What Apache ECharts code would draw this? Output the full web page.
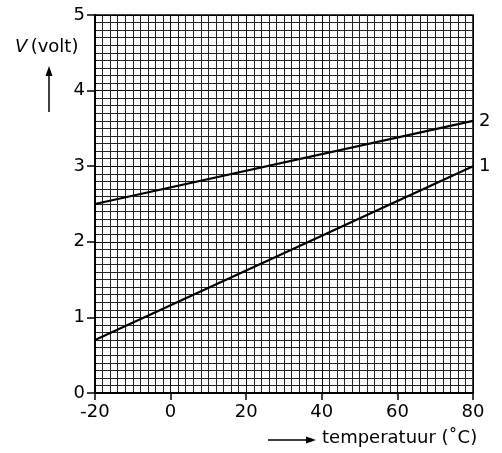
<!DOCTYPE html>
<html><head><meta charset="utf-8">
<script src="https://cdn.jsdelivr.net/npm/echarts@6/dist/echarts.min.js"></script>
<style>html,body{margin:0;padding:0;background:#fff}#c{width:502px;height:453px}</style>
</head><body><div id="c"></div>
<script>
const xTicks = [-20, 0, 20, 40, 60, 80];
const yTicks = [0, 1, 2, 3, 4, 5];
const line1 = [[-20, 0.7], [80, 3.0]];
const line2 = [[-20, 2.5], [80, 3.6]];
const seriesNames = ['1', '2'];

const chart = echarts.init(document.getElementById('c'), null, {renderer: 'canvas'});
const FONT = 'DejaVu Sans';
const FS = 18;
const axisCommon = {
  axisLine: {show: true, onZero: false, lineStyle: {color: '#000', width: 1.8}},
  axisTick: {show: true, inside: false, length: 8, lineStyle: {color: '#000', width: 1.5}},
  axisLabel: {color: '#000', fontSize: FS, fontFamily: FONT},
  splitLine: {show: true, lineStyle: {color: '#000', width: 1}},
  minorTick: {show: false, splitNumber: 10},
  minorSplitLine: {show: true, lineStyle: {color: '#222', width: 1}}
};
chart.setOption({
  animation: false,
  grid: {left: 95, right: 29, top: 15, bottom: 60, show: true, borderColor: '#000', borderWidth: 1.5},
  xAxis: Object.assign({}, axisCommon, {
    type: 'value', min: xTicks[0], max: xTicks[xTicks.length - 1], interval: xTicks[1] - xTicks[0],
    axisTick: Object.assign({}, axisCommon.axisTick, {length: 7}),
    axisLabel: Object.assign({}, axisCommon.axisLabel, {margin: 10})
  }),
  yAxis: Object.assign({}, axisCommon, {
    type: 'value', min: yTicks[0], max: yTicks[yTicks.length - 1], interval: yTicks[1] - yTicks[0],
    axisLabel: Object.assign({}, axisCommon.axisLabel, {margin: 10})
  }),
  series: [line1, line2].map((d, i) => ({
    type: 'line', name: seriesNames[i], data: d, symbol: 'none',
    lineStyle: {color: '#000', width: 2.2},
    endLabel: {show: true, formatter: seriesNames[i], color: '#000', fontSize: FS, fontFamily: FONT, distance: 6}
  })),
  graphic: [
    {type: 'text', left: 15, top: 38, style: {rich: {i: {fontStyle: 'italic', fontSize: FS, fontFamily: FONT, fill: '#000'}, n: {fontSize: FS, fontFamily: FONT, fill: '#000'}}, text: '{i|V} {n|(volt)}'}},
    {type: 'line', shape: {x1: 49, y1: 112, x2: 49, y2: 72}, style: {stroke: '#000', lineWidth: 1.5}},
    {type: 'polygon', shape: {points: [[49, 66], [45.5, 76], [52.5, 76]]}, style: {fill: '#000'}},
    {type: 'line', shape: {x1: 268, y1: 440, x2: 309, y2: 440}, style: {stroke: '#000', lineWidth: 1.5}},
    {type: 'polygon', shape: {points: [[316, 440], [306, 436.5], [306, 443.5]]}, style: {fill: '#000'}},
    {type: 'text', left: 322, top: 429, style: {text: 'temperatuur (\u02DAC)', fontSize: FS, fontFamily: FONT, fill: '#000'}}
  ]
});
</script></body></html>
